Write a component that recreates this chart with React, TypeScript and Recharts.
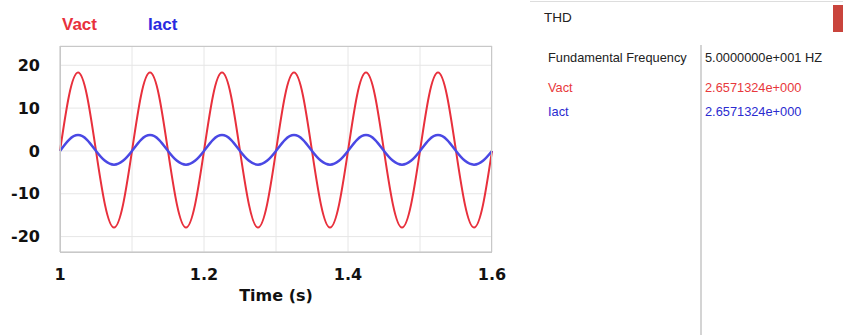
import { LineChart, Line, XAxis, YAxis, CartesianGrid } from "recharts";

const times = [
  1, 1.0125, 1.025, 1.0375, 1.05, 1.0625, 1.075, 1.0875,
  1.1, 1.1125, 1.125, 1.1375, 1.15, 1.1625, 1.175, 1.1875,
  1.2, 1.2125, 1.225, 1.2375, 1.25, 1.2625, 1.275, 1.2875,
  1.3, 1.3125, 1.325, 1.3375, 1.35, 1.3625, 1.375, 1.3875,
  1.4, 1.4125, 1.425, 1.4375, 1.45, 1.4625, 1.475, 1.4875,
  1.5, 1.5125, 1.525, 1.5375, 1.55, 1.5625, 1.575, 1.5875,
  1.6,
];

const vact = [
  0, 12.9, 18.3, 12.9, 0, -12.6, -17.9, -12.6,
  0, 12.9, 18.3, 12.9, 0, -12.6, -17.9, -12.6,
  0, 12.9, 18.3, 12.9, 0, -12.6, -17.9, -12.6,
  0, 12.9, 18.3, 12.9, 0, -12.6, -17.9, -12.6,
  0, 12.9, 18.3, 12.9, 0, -12.6, -17.9, -12.6,
  0, 12.9, 18.3, 12.9, 0, -12.6, -17.9, -12.6,
  0,
];

const iact = [
  0, 2.6, 3.7, 2.6, 0, -2.3, -3.2, -2.3,
  0, 2.6, 3.7, 2.6, 0, -2.3, -3.2, -2.3,
  0, 2.6, 3.7, 2.6, 0, -2.3, -3.2, -2.3,
  0, 2.6, 3.7, 2.6, 0, -2.3, -3.2, -2.3,
  0, 2.6, 3.7, 2.6, 0, -2.3, -3.2, -2.3,
  0, 2.6, 3.7, 2.6, 0, -2.3, -3.2, -2.3,
  0,
];

const xTicks = [1, 1.1, 1.2, 1.3, 1.4, 1.5, 1.6];
const xLabels = ["1", "", "1.2", "", "1.4", "", "1.6"];
const yTicks = [-20, -10, 0, 10, 20];

const thdNames = ["Fundamental Frequency", "Vact", "Iact"];
const thdValues = ["5.0000000e+001 HZ", "2.6571324e+000", "2.6571324e+000"];

const RED = "#e8303c";
const BLUE = "#4a48e4";
const rowColors = ["#222", "#e8383c", "#2b2bd0"];
const rowTops = [50, 80, 104];

const data = times.map((t, i) => ({ t, Vact: vact[i], Iact: iact[i] }));

const tickStyle = { fill: "#111", fontSize: 16, fontWeight: 700, fontFamily: "DejaVu Sans" };

export default function App() {
  return (
    <div style={{ position: "absolute", left: 0, top: 0, width: 843, height: 335, background: "#fff" }}>
      <LineChart width={510} height={310} data={data} margin={{ top: 46, right: 18, bottom: 28, left: 10 }}>
        <CartesianGrid stroke="#e6e6e6" strokeWidth={1} />
        <XAxis
          dataKey="t"
          type="number"
          domain={[1, 1.6]}
          ticks={xTicks}
          tickFormatter={(v: number) => xLabels[xTicks.findIndex((x) => Math.abs(x - v) < 1e-6)] ?? ""}
          tick={tickStyle}
          tickLine={false}
          tickSize={0}
          tickMargin={17}
          axisLine={{ stroke: "#c8c8c8" }}
          height={30}
          label={{ value: "Time (s)", position: "bottom", offset: 8, fill: "#111", fontSize: 16, fontWeight: 700, fontFamily: "DejaVu Sans" }}
        />
        <YAxis
          type="number"
          domain={[-23.6, 24.5]}
          ticks={yTicks}
          tick={tickStyle}
          tickLine={false}
          tickSize={0}
          tickMargin={20}
          axisLine={{ stroke: "#c8c8c8" }}
          width={50}
          allowDataOverflow
        />
        <Line type="natural" dataKey="Vact" stroke={RED} strokeWidth={2} dot={false} isAnimationActive={false} />
        <Line type="natural" dataKey="Iact" stroke={BLUE} strokeWidth={2.5} dot={false} isAnimationActive={false} />
      </LineChart>
      <div
        style={{
          position: "absolute",
          left: 60,
          top: 46,
          width: 432,
          height: 207,
          border: "1px solid #c8c8c8",
          boxSizing: "border-box",
          pointerEvents: "none",
        }}
      />
      <div style={{ position: "absolute", left: 62, top: 15, fontFamily: "Liberation Sans", fontWeight: 700, fontSize: 17, color: RED }}>
        Vact
      </div>
      <div style={{ position: "absolute", left: 148, top: 15, fontFamily: "Liberation Sans", fontWeight: 700, fontSize: 17, color: "#2a2ae0" }}>
        Iact
      </div>
      <div style={{ position: "absolute", left: 530, top: 1, width: 313, height: 1, background: "#ddd" }} />
      <div style={{ position: "absolute", left: 544, top: 10, fontFamily: "Liberation Sans", fontSize: 13.5, color: "#222" }}>THD</div>
      <div style={{ position: "absolute", left: 833, top: 5, width: 10, height: 27, background: "#c9443c" }} />
      <div style={{ position: "absolute", left: 700, top: 45, width: 2, height: 290, background: "#d4d4d4" }} />
      {thdNames.map((name, i) => (
        <div key={name}>
          <div style={{ position: "absolute", left: 548, top: rowTops[i], fontFamily: "Liberation Sans", fontSize: 12.8, color: rowColors[i] }}>
            {name}
          </div>
          <div style={{ position: "absolute", left: 705, top: rowTops[i], fontFamily: "Liberation Sans", fontSize: 12.8, color: rowColors[i] }}>
            {thdValues[i]}
          </div>
        </div>
      ))}
    </div>
  );
}
